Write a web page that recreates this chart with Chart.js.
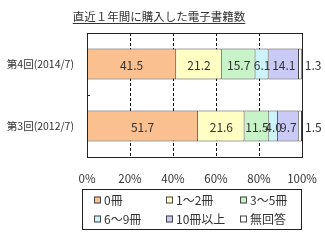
<!DOCTYPE html>
<html>
<head>
<meta charset="utf-8">
<script src="https://cdn.jsdelivr.net/npm/chart.js@4"></script>
<style>
  html, body { margin: 0; padding: 0; background: #fff; }
  #wrap { position: relative; width: 325px; height: 244px; }
</style>
</head>
<body>
<div id="wrap"><canvas id="chart" width="325" height="244"></canvas></div>
<script>
const chartTitle = '直近１年間に購入した電子書籍数';
const surveys = ['第4回(2014/7)', '第3回(2012/7)'];
const seriesNames = ['0冊', '1～2冊', '3～5冊', '6～9冊', '10冊以上', '無回答'];
const books0 = [41.5, 51.7];
const books1to2 = [21.2, 21.6];
const books3to5 = [15.7, 11.5];
const books6to9 = [6.1, 4.0];
const books10plus = [14.1, 9.7];
const noAnswer = [1.3, 1.5];
const xTicks = [0, 20, 40, 60, 80, 100];

const seriesValues = [books0, books1to2, books3to5, books6to9, books10plus, noAnswer];
const seriesColors = ['#FAC090', '#FFFFC4', '#C8F2C8', '#CCF4FA', '#CACAF6', '#FFFFFF'];
const FONT = "'Noto Sans CJK JP', 'Noto Sans', sans-serif";
const INK = '#333';

// dashed vertical gridlines behind the bars
const dashedGrid = {
  id: 'dashedGrid',
  beforeDatasetsDraw(chart) {
    const ctx = chart.ctx;
    const a = chart.chartArea;
    const xs = chart.scales.x;
    ctx.save();
    ctx.strokeStyle = '#111';
    ctx.lineWidth = 1;
    ctx.setLineDash([3, 2]);
    xTicks.slice(1, -1).forEach(v => {
      const x = Math.round(xs.getPixelForValue(v)) + 0.5;
      ctx.beginPath();
      ctx.moveTo(x, a.top);
      ctx.lineTo(x, a.bottom);
      ctx.stroke();
    });
    ctx.restore();
  }
};

// value labels: inside each segment, the last one outside on the right
const valueLabels = {
  id: 'valueLabels',
  afterDatasetsDraw(chart) {
    const ctx = chart.ctx;
    ctx.save();
    ctx.font = `12px ${FONT}`;
    ctx.fillStyle = INK;
    ctx.textBaseline = 'middle';
    const last = chart.data.datasets.length - 1;
    chart.data.datasets.forEach((ds, i) => {
      chart.getDatasetMeta(i).data.forEach((bar, j) => {
        const txt = ds.data[j].toFixed(1);
        if (i === last) {
          ctx.textAlign = 'left';
          ctx.fillText(txt, bar.x + 3, bar.y + 1);
        } else {
          ctx.textAlign = 'center';
          ctx.fillText(txt, (bar.x + bar.base) / 2, bar.y + 1);
        }
      });
    });
    ctx.restore();
  }
};

// title with underline, plot frame and boxed legend
const decorations = {
  id: 'decorations',
  afterDraw(chart) {
    const ctx = chart.ctx;
    const a = chart.chartArea;
    ctx.save();

    ctx.strokeStyle = '#222';
    ctx.lineWidth = 1;
    ctx.strokeRect(Math.round(a.left) + 0.5, Math.round(a.top) + 0.5,
      Math.round(a.right - a.left), Math.round(a.bottom - a.top));
    // small tick between categories
    const midY = Math.round((a.top + a.bottom) / 2) + 0.5;
    ctx.beginPath();
    ctx.moveTo(a.left, midY);
    ctx.lineTo(a.left + 3, midY);
    ctx.stroke();

    ctx.font = `11.5px ${FONT}`;
    ctx.fillStyle = INK;
    ctx.textAlign = 'center';
    ctx.textBaseline = 'middle';
    const tx = 159, ty = 17;
    ctx.fillText(chartTitle, tx, ty);
    const tw = ctx.measureText(chartTitle).width;
    ctx.strokeStyle = INK;
    ctx.beginPath();
    ctx.moveTo(tx - tw / 2, ty + 6.5);
    ctx.lineTo(tx + tw / 2, ty + 6.5);
    ctx.stroke();

    // legend box
    ctx.strokeStyle = '#222';
    ctx.strokeRect(82.5, 189.5, 219, 40);
    const cols = [94, 166, 240];
    const rows = [199.5, 218.5];
    ctx.font = `12px ${FONT}`;
    ctx.textAlign = 'left';
    chart.data.datasets.forEach((ds, i) => {
      const x = cols[i % 3], y = rows[Math.floor(i / 3)];
      ctx.fillStyle = ds.backgroundColor;
      ctx.fillRect(x, y - 3, 7, 7);
      ctx.strokeStyle = '#444';
      ctx.strokeRect(x + 0.5, y - 2.5, 6, 6);
      ctx.fillStyle = INK;
      ctx.fillText(ds.label, x + 10, y + 1);
    });
    ctx.restore();
  }
};

new Chart(document.getElementById('chart'), {
  type: 'bar',
  data: {
    labels: surveys,
    datasets: seriesNames.map((name, i) => ({
      label: name,
      data: seriesValues[i],
      backgroundColor: seriesColors[i],
      borderColor: '#444',
      borderWidth: 1,
      barPercentage: 0.5,
      categoryPercentage: 1
    }))
  },
  options: {
    indexAxis: 'y',
    responsive: false,
    animation: false,
    layout: { padding: { top: 33, right: 23, bottom: 0, left: 0 } },
    plugins: {
      legend: { display: false },
      tooltip: { enabled: false }
    },
    scales: {
      x: {
        stacked: true,
        min: 0,
        max: 100,
        afterBuildTicks(axis) { axis.ticks = xTicks.map(v => ({ value: v })); },
        afterFit(axis) { axis.height = 87; },
        ticks: {
          callback: v => v + '%',
          font: { family: FONT, size: 11.5 },
          color: INK,
          padding: 7,
          maxRotation: 0
        },
        grid: { display: false },
        border: { display: false }
      },
      y: {
        stacked: true,
        afterFit(axis) { axis.width = 87; },
        ticks: {
          font: { family: FONT, size: 10.5 },
          color: INK,
          padding: 5
        },
        grid: { display: false },
        border: { display: false }
      }
    }
  },
  plugins: [dashedGrid, valueLabels, decorations]
});
</script>
</body>
</html>
